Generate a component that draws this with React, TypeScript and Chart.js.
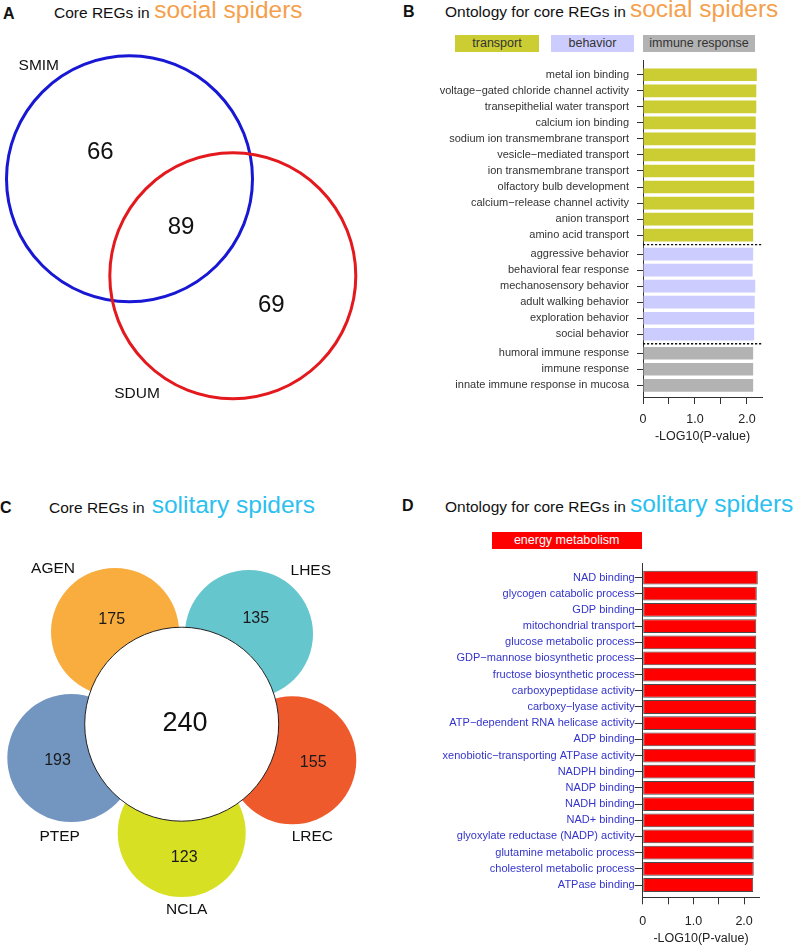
import React, { useEffect, useRef } from 'react';
import { Chart, registerables } from 'chart.js';

Chart.register(...registerables);

const FONT = '"Liberation Sans", Arial, Helvetica, sans-serif';
Chart.defaults.font.family = FONT;

// ---------------- data ----------------
// Panel A: Venn of core REGs in social spiders
const socialSpecies = ['SMIM', 'SDUM'];
const socialUnique = [66, 69];
const socialShared = 89;

// Panel B: ontology for core REGs in social spiders
const socialTerms = [
  'metal ion binding',
  'voltage\u2212gated chloride channel activity',
  'transepithelial water transport',
  'calcium ion binding',
  'sodium ion transmembrane transport',
  'vesicle\u2212mediated transport',
  'ion transmembrane transport',
  'olfactory bulb development',
  'calcium\u2212release channel activity',
  'anion transport',
  'amino acid transport',
  'aggressive behavior',
  'behavioral fear response',
  'mechanosensory behavior',
  'adult walking behavior',
  'exploration behavior',
  'social behavior',
  'humoral immune response',
  'immune response',
  'innate immune response in mucosa',
];
const socialLog10P = [2.19, 2.18, 2.18, 2.17, 2.17, 2.16, 2.14, 2.14, 2.14, 2.12, 2.12, 2.12, 2.11, 2.16, 2.15, 2.14, 2.14, 2.12, 2.12, 2.12];
const socialCategory = [0, 0, 0, 0, 0, 0, 0, 0, 0, 0, 0, 1, 1, 1, 1, 1, 1, 2, 2, 2];
const socialCategoryNames = ['transport', 'behavior', 'immune response'];

// Panel C: flower diagram of core REGs in solitary spiders
const solitarySpecies = ['AGEN', 'LHES', 'LREC', 'NCLA', 'PTEP'];
const solitaryUnique = [175, 135, 155, 123, 193];
const solitaryShared = 240;

// Panel D: ontology for core REGs in solitary spiders
const solitaryTerms = [
  'NAD binding',
  'glycogen catabolic process',
  'GDP binding',
  'mitochondrial transport',
  'glucose metabolic process',
  'GDP\u2212mannose biosynthetic process',
  'fructose biosynthetic process',
  'carboxypeptidase activity',
  'carboxy\u2212lyase activity',
  'ATP\u2212dependent RNA helicase activity',
  'ADP binding',
  'xenobiotic\u2212transporting ATPase activity',
  'NADPH binding',
  'NADP binding',
  'NADH binding',
  'NAD+ binding',
  'glyoxylate reductase (NADP) activity',
  'glutamine metabolic process',
  'cholesterol metabolic process',
  'ATPase binding',
];
const solitaryLog10P = [2.27, 2.25, 2.25, 2.24, 2.24, 2.24, 2.24, 2.24, 2.24, 2.24, 2.23, 2.23, 2.22, 2.2, 2.2, 2.2, 2.19, 2.19, 2.19, 2.18];
const solitaryCategoryNames = ['energy metabolism'];

const xTickValues = [0, 0.5, 1, 1.5, 2];
const xTickLabels = ['0', '', '1.0', '', '2.0'];
const xAxisTitle = '-LOG10(P-value)';

// ---------------- layout / style ----------------
const CATEGORY_COLORS = ['#cccc33', '#ccccff', '#b3b3b3'];
const ENERGY_COLOR = '#ff0000';

const VENN_A = {
  box: { left: 0, top: 30, width: 400, height: 400 },
  r: 123,
  centers: [{ x: 129.5, y: 178.8 }, { x: 232.8, y: 275.8 }],
  colors: ['#1818d4', '#e3191e'],
  nameAt: [{ x: 38.8, y: 65.5 }, { x: 137, y: 394 }],
  uniqueAt: [{ x: 100.3, y: 152 }, { x: 271.3, y: 305.3 }],
  sharedAt: { x: 181, y: 227 },
};

const VENN_C = {
  box: { left: 0, top: 530, width: 400, height: 410 },
  petalR: 64,
  petals: [
    { x: 115, y: 632 },
    { x: 249, y: 634 },
    { x: 292.3, y: 760.3 },
    { x: 181.7, y: 833 },
    { x: 71.3, y: 758 },
  ],
  colors: ['#f9ad3e', '#66c6ce', '#ee5a2b', '#d8e023', '#7396c1'],
  nameAt: [
    { x: 53, y: 568.5 },
    { x: 310.8, y: 570.3 },
    { x: 312.3, y: 836.7 },
    { x: 186.7, y: 910 },
    { x: 59.7, y: 836.5 },
  ],
  uniqueAt: [
    { x: 111.7, y: 619.5 },
    { x: 255.8, y: 619 },
    { x: 313.2, y: 762.3 },
    { x: 184.2, y: 857.7 },
    { x: 57.5, y: 761 },
  ],
  core: { x: 181.7, y: 724.2, r: 97 },
  coreAt: { x: 185, y: 723.3 },
};

const GROUP_GAP = 0.18;

type TextLabel = { text: string; x: number; y: number; size: number; color: string };

const textPlugin = (labels: TextLabel[]) => ({
  id: 'vennText',
  afterDatasetsDraw(chart: any) {
    const { ctx, scales } = chart;
    ctx.save();
    ctx.textAlign = 'center';
    ctx.textBaseline = 'middle';
    labels.forEach((l) => {
      ctx.font = `${l.size}px ${FONT}`;
      ctx.fillStyle = l.color;
      ctx.fillText(l.text, scales.x.getPixelForValue(l.x), scales.y.getPixelForValue(l.y));
    });
    ctx.restore();
  },
});

const dividerPlugin = (positions: number[], groups: number[]) => ({
  id: 'groupDividers',
  afterDatasetsDraw(chart: any) {
    const { ctx, chartArea, scales } = chart;
    ctx.save();
    ctx.setLineDash([2.2, 1.8]);
    ctx.strokeStyle = '#111';
    ctx.lineWidth = 1.3;
    for (let i = 1; i < groups.length; i++) {
      if (groups[i] !== groups[i - 1]) {
        const y = scales.y.getPixelForValue((positions[i] + positions[i - 1]) / 2);
        ctx.beginPath();
        ctx.moveTo(chartArea.left, y);
        ctx.lineTo(chartArea.right, y);
        ctx.stroke();
      }
    }
    ctx.restore();
  },
});

function vennConfig(box: any, datasets: any[], labels: TextLabel[]) {
  return {
    type: 'bubble',
    data: { datasets },
    options: {
      animation: false,
      responsive: false,
      events: [],
      layout: { padding: 0, autoPadding: false },
      plugins: { legend: { display: false }, tooltip: { enabled: false } },
      scales: {
        x: { type: 'linear', display: false, min: box.left, max: box.left + box.width },
        y: { type: 'linear', display: false, min: box.top, max: box.top + box.height, reverse: true },
      },
    },
    plugins: [textPlugin(labels)],
  };
}

function configA() {
  const labels: TextLabel[] = [
    ...socialSpecies.map((s, i) => ({ text: s, ...VENN_A.nameAt[i], size: 15.5, color: '#111' })),
    ...socialUnique.map((n, i) => ({ text: String(n), ...VENN_A.uniqueAt[i], size: 24, color: '#111' })),
    { text: String(socialShared), ...VENN_A.sharedAt, size: 24, color: '#111' },
  ];
  return vennConfig(
    VENN_A.box,
    [
      {
        data: socialSpecies.map((_, i) => ({ x: VENN_A.centers[i].x, y: VENN_A.centers[i].y, r: VENN_A.r })),
        backgroundColor: 'rgba(0,0,0,0)',
        borderColor: VENN_A.colors,
        borderWidth: 3,
        clip: false,
      },
    ],
    labels
  );
}

function configC() {
  const labels: TextLabel[] = [
    ...solitarySpecies.map((s, i) => ({ text: s, ...VENN_C.nameAt[i], size: 15.5, color: '#111' })),
    ...solitaryUnique.map((n, i) => ({ text: String(n), ...VENN_C.uniqueAt[i], size: 16, color: '#1a1a1a' })),
    { text: String(solitaryShared), ...VENN_C.coreAt, size: 27, color: '#111' },
  ];
  return vennConfig(
    VENN_C.box,
    [
      {
        data: [{ x: VENN_C.core.x, y: VENN_C.core.y, r: VENN_C.core.r }],
        backgroundColor: '#ffffff',
        borderColor: '#222',
        borderWidth: 1,
        clip: false,
      },
      {
        data: solitarySpecies.map((_, i) => ({ x: VENN_C.petals[i].x, y: VENN_C.petals[i].y, r: VENN_C.petalR })),
        backgroundColor: VENN_C.colors,
        borderWidth: 0,
        clip: false,
      },
    ],
    labels
  );
}

function termConfig(p: any) {
  const positions: number[] = p.terms.map((_: string, i: number) => i + (p.groups ? p.groups[i] * GROUP_GAP : 0));
  return {
    type: 'bar',
    data: {
      datasets: [
        {
          data: p.values.map((v: number, i: number) => ({ x: v, y: positions[i] })),
          backgroundColor: p.colors,
          borderColor: p.borderColor,
          borderWidth: p.borderWidth,
          borderSkipped: false,
          barPercentage: p.barPct,
          categoryPercentage: 1,
        },
      ],
    },
    options: {
      indexAxis: 'y',
      animation: false,
      responsive: false,
      events: [],
      layout: { padding: { top: p.padTop, right: p.padRight, left: 0, bottom: 0 }, autoPadding: false },
      plugins: { legend: { display: false }, tooltip: { enabled: false } },
      scales: {
        y: {
          type: 'linear',
          reverse: true,
          offset: false,
          min: p.yMin,
          max: positions[positions.length - 1] + p.yMaxExtra,
          afterFit: (s: any) => {
            s.width = p.areaLeft;
            s.paddingTop = 0;
            s.paddingBottom = 0;
          },
          afterBuildTicks: (s: any) => {
            s.ticks = positions.map((v) => ({ value: v }));
          },
          ticks: {
            autoSkip: false,
            callback: (_v: any, i: number) => p.terms[i],
            font: { size: 11 },
            color: p.labelColor,
            padding: p.yTickPadding,
          },
          grid: { offset: false, drawOnChartArea: false, drawTicks: true, tickLength: p.yTickLength, color: '#333', lineWidth: 1 },
          border: { display: true, color: '#333', width: 1 },
        },
        x: {
          type: 'linear',
          min: 0,
          max: p.xMax,
          afterFit: (s: any) => {
            s.height = p.xHeight;
            s.paddingLeft = 0;
            s.paddingRight = 0;
          },
          afterBuildTicks: (s: any) => {
            s.ticks = xTickValues.map((v) => ({ value: v }));
          },
          ticks: {
            autoSkip: false,
            maxRotation: 0,
            callback: (_v: any, i: number) => xTickLabels[i],
            font: { size: 12.5 },
            color: '#222',
            padding: p.xTickPadding,
          },
          grid: { drawOnChartArea: false, drawTicks: true, tickLength: 7, color: '#333', lineWidth: 1 },
          border: { display: true, color: '#333', width: 1 },
          title: {
            display: true,
            text: xAxisTitle,
            font: { size: 12.5 },
            color: '#222',
            padding: { top: 2, bottom: p.titlePadBottom },
          },
        },
      },
    },
    plugins: p.groups ? [dividerPlugin(positions, p.groups)] : [],
  };
}

function configB() {
  return termConfig({
    terms: socialTerms,
    values: socialLog10P,
    groups: socialCategory,
    colors: socialCategory.map((c) => CATEGORY_COLORS[c]),
    borderColor: 'rgba(0,0,0,0)',
    borderWidth: 0,
    barPct: 0.79,
    labelColor: '#333',
    yMin: -0.92,
    yMaxExtra: 0.73,
    xMax: 2.29,
    areaLeft: 243,
    padTop: 10,
    padRight: 36,
    xHeight: 48,
    yTickLength: 6,
    yTickPadding: 8,
    xTickPadding: 8,
    titlePadBottom: 1,
  });
}

function configD() {
  return termConfig({
    terms: solitaryTerms,
    values: solitaryLog10P,
    groups: null,
    colors: solitaryTerms.map(() => ENERGY_COLOR),
    borderColor: '#4a4a4a',
    borderWidth: 1,
    barPct: 0.85,
    labelColor: '#3434cc',
    yMin: -0.88,
    yMaxExtra: 0.76,
    xMax: 2.3,
    areaLeft: 242.7,
    padTop: 13.3,
    padRight: 38.7,
    xHeight: 48.7,
    yTickLength: 8,
    yTickPadding: 0,
    xTickPadding: 9.5,
    titlePadBottom: 0,
  });
}

function ChartBox({ make, left, top, width, height }: { make: () => any; left: number; top: number; width: number; height: number }) {
  const ref = useRef<HTMLCanvasElement>(null);
  useEffect(() => {
    const chart = new Chart(ref.current as HTMLCanvasElement, make());
    return () => chart.destroy();
  }, []);
  return (
    <canvas
      ref={ref}
      width={width}
      height={height}
      style={{ position: 'absolute', left, top, width, height, display: 'block' }}
    />
  );
}

type Part = { text: string; size: number; color: string; weight?: number; gap?: number };

function Title({ left, baseline, parts }: { left: number; baseline: number; parts: Part[] }) {
  const maxSize = Math.max(...parts.map((p) => p.size));
  return (
    <div
      style={{
        position: 'absolute',
        left,
        top: baseline - 0.8465 * maxSize,
        display: 'flex',
        alignItems: 'baseline',
        whiteSpace: 'nowrap',
        fontFamily: FONT,
      }}
    >
      {parts.map((p, i) => (
        <span key={i} style={{ fontSize: p.size, lineHeight: 1, color: p.color, fontWeight: p.weight ?? 400, marginLeft: p.gap ?? 0 }}>
          {p.text}
        </span>
      ))}
    </div>
  );
}

function LegendBox({ left, right, top, bottom, bg, color, text }: any) {
  return (
    <div
      style={{
        position: 'absolute',
        left,
        top,
        width: right - left,
        height: bottom - top,
        background: bg,
        color,
        fontFamily: FONT,
        fontSize: 12.5,
        lineHeight: `${bottom - top}px`,
        textAlign: 'center',
        whiteSpace: 'nowrap',
      }}
    >
      {text}
    </div>
  );
}

const ORANGE = '#f5a04c';
const CYAN = '#2cc0ef';
const INK = '#111';

const legendB = [
  { left: 455, right: 539 },
  { left: 551, right: 634 },
  { left: 643, right: 755 },
];

export default function App() {
  return (
    <div style={{ position: 'absolute', left: 0, top: 0, width: 798, height: 946, background: '#fff', overflow: 'hidden' }}>
      <ChartBox make={configA} left={VENN_A.box.left} top={VENN_A.box.top} width={VENN_A.box.width} height={VENN_A.box.height} />
      <ChartBox make={configB} left={400} top={50} width={398} height={395} />
      <ChartBox make={configC} left={VENN_C.box.left} top={VENN_C.box.top} width={VENN_C.box.width} height={VENN_C.box.height} />
      <ChartBox make={configD} left={400} top={550} width={398} height={396} />

      <Title left={3} baseline={20} parts={[{ text: 'A', size: 16, color: INK, weight: 700 }]} />
      <Title
        left={54}
        baseline={18.8}
        parts={[
          { text: 'Core REGs in', size: 15.5, color: INK },
          { text: 'social spiders', size: 24.5, color: ORANGE, gap: 4.5 },
        ]}
      />
      <Title left={403} baseline={17.8} parts={[{ text: 'B', size: 16, color: INK, weight: 700 }]} />
      <Title
        left={445}
        baseline={18}
        parts={[
          { text: 'Ontology for core REGs in', size: 15.5, color: INK },
          { text: 'social spiders', size: 24.5, color: ORANGE, gap: 4 },
        ]}
      />
      <Title left={0} baseline={513.3} parts={[{ text: 'C', size: 16, color: INK, weight: 700 }]} />
      <Title
        left={49}
        baseline={514}
        parts={[
          { text: 'Core REGs in', size: 15.5, color: INK },
          { text: 'solitary spiders', size: 24.5, color: CYAN, gap: 7 },
        ]}
      />
      <Title left={402} baseline={512} parts={[{ text: 'D', size: 16, color: INK, weight: 700 }]} />
      <Title
        left={445}
        baseline={513}
        parts={[
          { text: 'Ontology for core REGs in', size: 15.5, color: INK },
          { text: 'solitary spiders', size: 24.5, color: CYAN, gap: 4 },
        ]}
      />

      {socialCategoryNames.map((name, i) => (
        <LegendBox key={name} {...legendB[i]} top={35} bottom={52} bg={CATEGORY_COLORS[i]} color="#333" text={name} />
      ))}
      {solitaryCategoryNames.map((name) => (
        <LegendBox key={name} left={491.7} right={641.7} top={532} bottom={549} bg={ENERGY_COLOR} color="#fff" text={name} />
      ))}
    </div>
  );
}
